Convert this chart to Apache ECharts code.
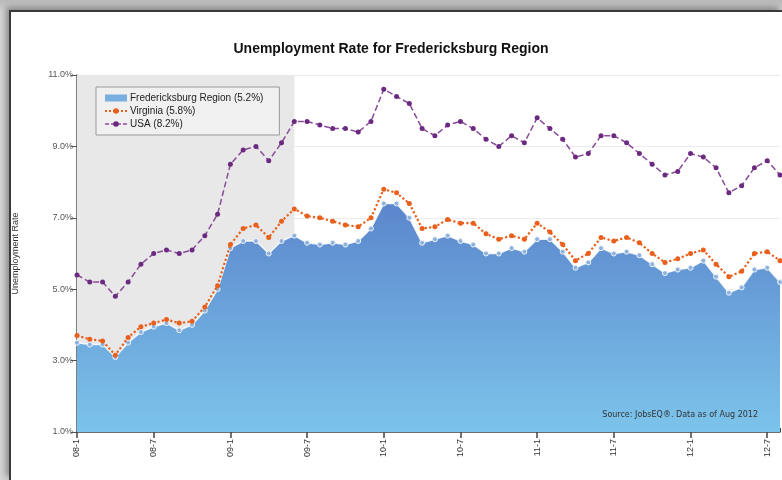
<!DOCTYPE html>
<html>
<head>
<meta charset="utf-8">
<script src="https://cdn.jsdelivr.net/npm/echarts@6/dist/echarts.min.js"></script>
<style>
  html, body { margin: 0; padding: 0; }
  body { width: 782px; height: 480px; overflow: hidden; position: relative;
         background: linear-gradient(to bottom, #b9b9b9, #d4d4d4 12px, #d4d4d4); }
  .frame { position: absolute; left: 9px; top: 10px; right: 0; bottom: 0; background: #fff;
           border-top: 2px solid #3a3a3a; border-left: 2px solid #3a3a3a;
           box-shadow: -3px -3px 6px rgba(0,0,0,0.35); }
  #Cline { position: absolute; left: 0; top: 0; width: 782px; height: 480px; }
</style>
</head>
<body>
<div class="frame"></div>
<div class="Cline" id="Cline"></div>
<script>
  // month labels, Jan 2008 .. Aug 2012
  var xData = ['08-1','08-2','08-3','08-4','08-5','08-6','08-7','08-8','08-9','08-10','08-11','08-12',
               '09-1','09-2','09-3','09-4','09-5','09-6','09-7','09-8','09-9','09-10','09-11','09-12',
               '10-1','10-2','10-3','10-4','10-5','10-6','10-7','10-8','10-9','10-10','10-11','10-12',
               '11-1','11-2','11-3','11-4','11-5','11-6','11-7','11-8','11-9','11-10','11-11','11-12',
               '12-1','12-2','12-3','12-4','12-5','12-6','12-7','12-8'];
  var legendData = ['Fredericksburg Region (5.2%)', 'Virginia (5.8%)', 'USA (8.2%)'];
  var yTicks = [1, 3, 5, 7, 9, 11];
  var dataFred = [3.5,3.45,3.45,3.1,3.5,3.8,3.95,4.05,3.85,4.0,4.4,5.0,
                  6.15,6.35,6.35,6.0,6.35,6.5,6.3,6.25,6.3,6.25,6.35,6.7,
                  7.4,7.4,7.0,6.3,6.4,6.5,6.35,6.25,6.0,6.0,6.15,6.05,
                  6.4,6.4,6.05,5.6,5.75,6.15,6.0,6.05,5.95,5.7,5.45,5.55,
                  5.6,5.8,5.35,4.9,5.05,5.55,5.6,5.2];
  var dataVa = [3.7,3.6,3.55,3.15,3.65,3.95,4.05,4.15,4.05,4.1,4.5,5.1,
                6.25,6.7,6.8,6.45,6.9,7.25,7.05,7.0,6.9,6.8,6.75,7.0,
                7.8,7.7,7.4,6.7,6.75,6.95,6.85,6.85,6.55,6.4,6.5,6.4,
                6.85,6.6,6.25,5.8,6.0,6.45,6.35,6.45,6.3,6.0,5.75,5.85,
                6.0,6.1,5.7,5.35,5.5,6.0,6.05,5.8];
  var dataUsa = [5.4,5.2,5.2,4.8,5.2,5.7,6.0,6.1,6.0,6.1,6.5,7.1,
                 8.5,8.9,9.0,8.6,9.1,9.7,9.7,9.6,9.5,9.5,9.4,9.7,
                 10.6,10.4,10.2,9.5,9.3,9.6,9.7,9.5,9.2,9.0,9.3,9.1,
                 9.8,9.5,9.2,8.7,8.8,9.3,9.3,9.1,8.8,8.5,8.2,8.3,
                 8.8,8.7,8.4,7.7,7.9,8.4,8.6,8.2];
  var recession = ['08-1', '09-6'];

  var charts = echarts.init(document.getElementById('Cline'));
  charts.setOption({
    textStyle: { fontFamily: 'Liberation Sans, Arial, sans-serif' },
    title: {
      text: 'Unemployment Rate for Fredericksburg Region',
      left: 'center',
      top: 37,
      textStyle: { color: '#111', fontSize: 14, fontWeight: 'bold' }
    },
    color: ['#6f9fd8', '#e8601c', '#7b3a8c'],
    legend: {
      data: [
        { name: legendData[0], icon: 'rect', itemStyle: { color: '#78aee0' } },
        { name: legendData[1], itemStyle: { color: '#e8601c', borderWidth: 0 },
          lineStyle: { color: '#e8601c', type: 'dotted', width: 2 } },
        { name: legendData[2], itemStyle: { color: '#6b2a80', borderWidth: 0 },
          lineStyle: { color: '#8a4a9a', type: [4, 2], width: 1.5 } }
      ],
      orient: 'vertical',
      left: 96,
      top: 87,
      padding: [6, 16, 6, 8],
      itemGap: 3,
      itemWidth: 22,
      itemHeight: 7,
      itemStyle: { borderWidth: 0 },
      backgroundColor: '#f0f0f0',
      borderColor: '#9a9a9a',
      borderWidth: 1,
      textStyle: { color: '#222', fontSize: 10, padding: [0, 0, 0, -2] }
    },
    grid: { left: 77, right: 2, top: 75, bottom: 48 },
    xAxis: [
      {
        type: 'category',
        position: 'bottom',
        boundaryGap: false,
        data: xData,
        axisLine: { lineStyle: { color: '#444', width: 1.5 } },
        axisTick: { interval: 5, length: 6, lineStyle: { color: '#444', width: 1.5 } },
        axisLabel: { interval: 5, rotate: 90, fontSize: 9, color: '#333', margin: 7 },
        splitLine: { show: false }
      },
      {
        type: 'category',
        position: 'bottom',
        boundaryGap: false,
        data: xData,
        axisLine: { show: false },
        axisTick: { interval: 0, inside: true, length: 4, lineStyle: { color: '#444' } },
        axisLabel: { show: false },
        splitLine: { show: false }
      }
    ],
    yAxis: {
      type: 'value',
      min: yTicks[0],
      max: yTicks[yTicks.length - 1],
      interval: 2,
      name: 'Unemployment Rate',
      nameLocation: 'middle',
      nameGap: 57,
      nameTextStyle: { fontSize: 9, color: '#333' },
      axisLine: { show: true, lineStyle: { color: '#555', width: 1.5 } },
      axisTick: { show: true, length: 6, lineStyle: { color: '#555' } },
      axisLabel: { fontSize: 9, color: '#555', margin: 4,
                   formatter: function (v) { return v.toFixed(1) + '%'; } },
      splitLine: { show: true, lineStyle: { color: '#ececec' } }
    },
    graphic: [{
      type: 'text',
      right: 24,
      top: 411,
      z: 10,
      style: { text: 'Source: JobsEQ\u00ae. Data as of Aug 2012', fill: '#333',
               font: '8px "DejaVu Sans", sans-serif' }
    }],
    series: [
      {
        name: legendData[0],
        type: 'line',
        data: dataFred,
        symbol: 'circle',
        symbolSize: 5,
        itemStyle: { color: '#8fb2dd', borderColor: '#eef4fb', borderWidth: 1 },
        lineStyle: { color: 'rgba(255,255,255,0.85)', width: 1.5 },
        areaStyle: {
          opacity: 1,
          color: new echarts.graphic.LinearGradient(0, 0, 0, 1, [
            { offset: 0, color: '#5b86cc' },
            { offset: 1, color: '#7cc4eb' }
          ])
        },
        markArea: {
          silent: true,
          itemStyle: { color: '#e8e8e8' },
          data: [[{ xAxis: recession[0] }, { xAxis: recession[1] }]]
        },
        z: 2
      },
      {
        name: legendData[1],
        type: 'line',
        data: dataVa,
        symbol: 'circle',
        symbolSize: 5,
        itemStyle: { color: '#e8601c' },
        lineStyle: { color: '#e8601c', type: 'dotted', width: 2.2 },
        z: 3
      },
      {
        name: legendData[2],
        type: 'line',
        data: dataUsa,
        symbol: 'circle',
        symbolSize: 5,
        itemStyle: { color: '#6b2a80' },
        lineStyle: { color: '#8a4a9a', type: 'dashed', width: 1.5 },
        z: 3
      }
    ]
  });
</script>
</body>
</html>
